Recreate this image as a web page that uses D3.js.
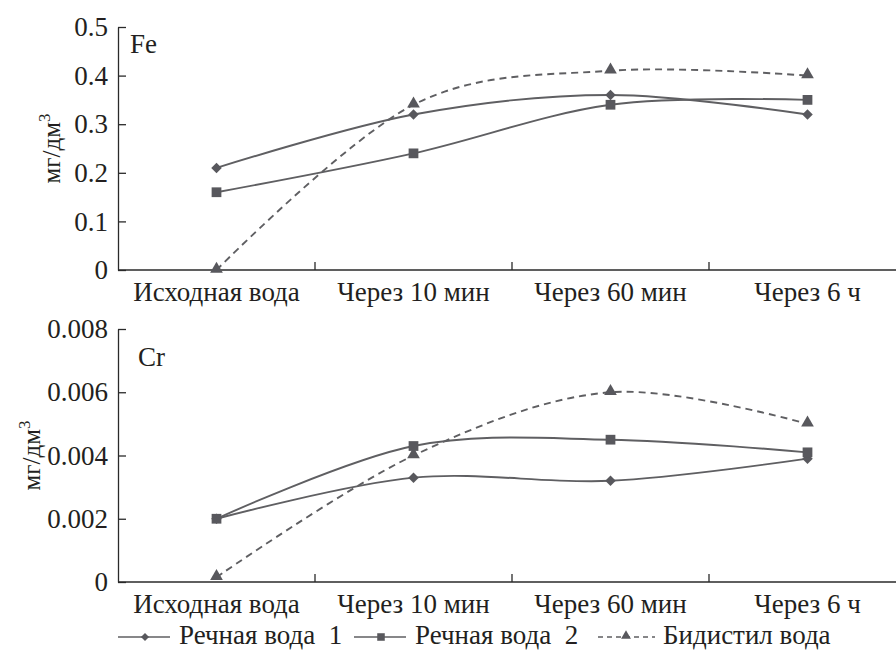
<!DOCTYPE html>
<html>
<head>
<meta charset="utf-8">
<script src="https://cdn.jsdelivr.net/npm/d3@7"></script>
<style>
body { margin: 0; background: #fff; }
</style>
</head>
<body>
<div id="chart"></div>
<script>
width = 896
height = 650

// data
let categories = ["Исходная вода", "Через 10 мин", "Через 60 мин", "Через 6 ч"]
let seriesNames = ["Речная вода  1", "Речная вода  2", "Бидистил вода"]

let feRiver1 = [0.21, 0.32, 0.36, 0.32]
let feRiver2 = [0.16, 0.24, 0.34, 0.35]
let feBidist = [0.0, 0.34, 0.41, 0.40]
let feTicks = [0, 0.1, 0.2, 0.3, 0.4, 0.5]

let crRiver1 = [0.002, 0.0033, 0.0032, 0.0039]
let crRiver2 = [0.002, 0.0043, 0.0045, 0.0041]
let crBidist = [0.00015, 0.004, 0.006, 0.005]
let crTicks = [0, 0.002, 0.004, 0.006, 0.008]

let lineColor = "#5f5f62"
let markColor = "#58585d"
let axisColor = "#2a2a2a"
let textColor = "#231f20"
let fontFamily = "Liberation Serif"
let fontSize = 27

let svg = d3.select("#chart")
.append("svg")
.attr("width", width)
.attr("height", height)
.attr("font-family", fontFamily)

let x = d3.scaleBand()
.domain(categories)
.range([118, 906])

let markers = ["diamond", "square", "triangle"]

function drawMarker(g, type, cx, cy, scale) {
	let s = scale || 1
	if (type == "diamond") {
		g.append("path")
		.attr("d", d3.symbol(d3.symbolSquare, 55 * s)())
		.attr("transform", "translate(" + cx + "," + cy + ") rotate(45)")
		.attr("fill", markColor)
	} else if (type == "square") {
		g.append("path")
		.attr("d", d3.symbol(d3.symbolSquare, 95 * s)())
		.attr("transform", "translate(" + cx + "," + cy + ")")
		.attr("fill", markColor)
	} else {
		g.append("path")
		.attr("d", d3.symbol(d3.symbolTriangle, 70 * s)())
		.attr("transform", "translate(" + cx + "," + (cy - 1) + ")")
		.attr("fill", markColor)
	}
}

function addText(g) {
	return g.append("text")
	.attr("font-family", fontFamily)
	.attr("font-size", fontSize)
	.attr("fill", textColor)
}

function panel(cfg) {
	let g = svg.append("g")
	let y = d3.scaleLinear().domain([0, cfg.max]).range([cfg.bottom, cfg.top])

	// y axis
	let yAxis = d3.axisLeft(y)
	.tickValues(cfg.ticks)
	.tickSizeInner(-8)
	.tickSizeOuter(0)
	.tickPadding(10)
	.tickFormat(d => d == 0 ? "0" : d3.format(cfg.fmt)(d))

	let ya = g.append("g")
	.attr("transform", "translate(118,0)")
	.call(yAxis)
	ya.attr("font-family", fontFamily).attr("font-size", fontSize)
	ya.select(".domain").attr("stroke", axisColor).attr("stroke-width", 1.3)
	ya.selectAll(".tick line").attr("stroke", axisColor).attr("stroke-width", 1.3)
	ya.selectAll(".tick text")
	.attr("font-size", fontSize)
	.attr("font-family", fontFamily)
	.attr("fill", textColor)

	// x axis
	g.append("line")
	.attr("x1", 118).attr("x2", 906)
	.attr("y1", cfg.bottom).attr("y2", cfg.bottom)
	.attr("stroke", axisColor).attr("stroke-width", 1.3)

	categories.slice(1).forEach(c => {
		g.append("line")
		.attr("x1", x(c)).attr("x2", x(c))
		.attr("y1", cfg.bottom).attr("y2", cfg.bottom - 8)
		.attr("stroke", axisColor).attr("stroke-width", 1.3)
	})

	categories.forEach(c => {
		addText(g)
		.attr("x", x(c) + x.bandwidth() / 2)
		.attr("y", cfg.bottom + 31)
		.attr("text-anchor", "middle")
		.text(c)
	})

	// element label
	addText(g)
	.attr("x", cfg.labelX)
	.attr("y", cfg.labelY)
	.text(cfg.element)

	// y title
	let yt = addText(g)
	.attr("transform", "translate(" + cfg.titleX + "," + (cfg.top + cfg.bottom) / 2 + ") rotate(-90)")
	.attr("text-anchor", "middle")
	.attr("font-size", 25)
	yt.append("tspan").text("мг/дм")
	yt.append("tspan").attr("dy", -10).attr("font-size", 17).text("3")

	let line = d3.line()
	.x((d, i) => x(categories[i]) + x.bandwidth() / 2)
	.y(d => y(d))
	.curve(d3.curveCardinal.tension(0))

	cfg.series.forEach((values, si) => {
		g.append("path")
		.attr("d", line(values))
		.attr("fill", "none")
		.attr("stroke", lineColor)
		.attr("stroke-width", 1.9)
		.attr("stroke-dasharray", si == 2 ? "7,5" : null)
	})

	cfg.series.forEach((values, si) => {
		values.forEach((v, i) => {
			drawMarker(g, markers[si], x(categories[i]) + x.bandwidth() / 2, y(v))
		})
	})
}

panel({
	element: "Fe",
	series: [feRiver1, feRiver2, feBidist],
	ticks: feTicks,
	max: 0.5,
	fmt: ".1f",
	top: 27,
	bottom: 270,
	labelX: 130,
	labelY: 53,
	titleX: 60
})

panel({
	element: "Cr",
	series: [crRiver1, crRiver2, crBidist],
	ticks: crTicks,
	max: 0.008,
	fmt: ".3f",
	top: 329,
	bottom: 582,
	labelX: 138,
	labelY: 366,
	titleX: 40
})

// legend
let legendX = [118, 354, 598]
let legend = svg.append("g").attr("transform", "translate(0,637)")

seriesNames.forEach((name, i) => {
	let row = legend.append("g").attr("transform", "translate(" + legendX[i] + ",0)")
	row.append("line")
	.attr("x1", 0).attr("x2", i == 2 ? 57 : 52)
	.attr("y1", 0).attr("y2", 0)
	.attr("stroke", lineColor)
	.attr("stroke-width", 1.7)
	.attr("stroke-dasharray", i == 2 ? "5,4" : null)
	drawMarker(row, markers[i], i == 2 ? 28 : 27, 0, 0.6)
	addText(row)
	.attr("x", i == 2 ? 65 : 61)
	.attr("y", 7)
	.attr("font-size", 27)
	.style("white-space", "pre")
	.text(name)
})
</script>
</body>
</html>
